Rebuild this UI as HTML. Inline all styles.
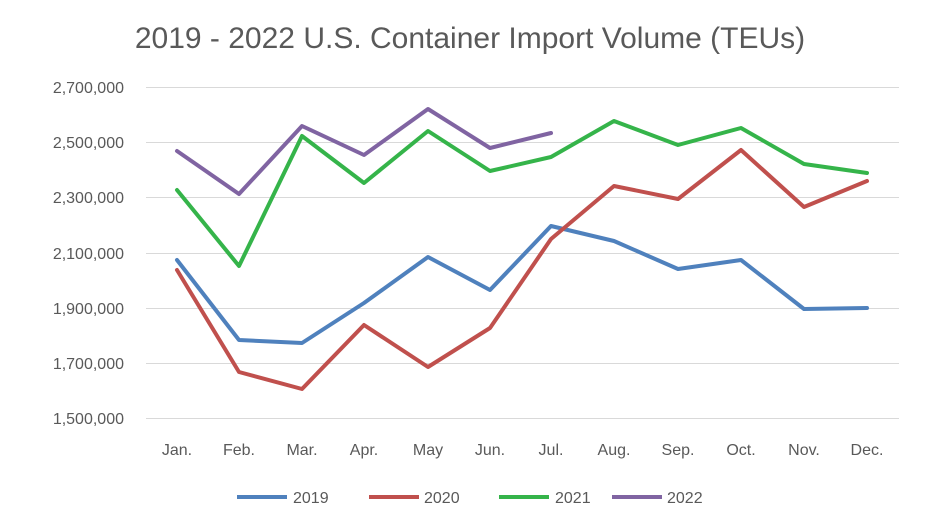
<!DOCTYPE html>
<html><head><style>body{margin:0;background:#fff}svg{display:block}text{font-family:"Liberation Sans",sans-serif;fill:#595959}</style></head>
<body>
<svg width="929" height="528" viewBox="0 0 929 528">
<text x="470" y="48" font-size="30" text-anchor="middle">2019 - 2022 U.S. Container Import Volume (TEUs)</text>
<g stroke="#d9d9d9" stroke-width="1">
<line x1="146" x2="899" y1="87.5" y2="87.5"/><line x1="146" x2="899" y1="142.5" y2="142.5"/><line x1="146" x2="899" y1="197.5" y2="197.5"/><line x1="146" x2="899" y1="253.5" y2="253.5"/><line x1="146" x2="899" y1="308.5" y2="308.5"/><line x1="146" x2="899" y1="363.5" y2="363.5"/><line x1="146" x2="899" y1="418.5" y2="418.5"/>
</g>
<g font-size="16" text-anchor="end">
<text x="124" y="93">2,700,000</text><text x="124" y="148">2,500,000</text><text x="124" y="203">2,300,000</text><text x="124" y="259">2,100,000</text><text x="124" y="314">1,900,000</text><text x="124" y="369">1,700,000</text><text x="124" y="424">1,500,000</text>
</g>
<g font-size="16" text-anchor="middle">
<text x="177" y="455">Jan.</text><text x="239" y="455">Feb.</text><text x="302" y="455">Mar.</text><text x="364" y="455">Apr.</text><text x="428" y="455">May</text><text x="490" y="455">Jun.</text><text x="551" y="455">Jul.</text><text x="614" y="455">Aug.</text><text x="678" y="455">Sep.</text><text x="741" y="455">Oct.</text><text x="804" y="455">Nov.</text><text x="867" y="455">Dec.</text>
</g>
<g fill="none" stroke-width="4" stroke-linejoin="round" stroke-linecap="round">
<polyline stroke="#4F81BD" points="177,260 239,340 302,343 364,303 428,257 490,290 551,226 614,241 678,269 741,260 804,309 867,308"/>
<polyline stroke="#C0504D" points="177,270 239,372 302,389 364,325 428,367 490,328 551,239 614,186 678,199 741,150 804,207 867,181"/>
<polyline stroke="#35B44A" points="177,190 239,266 302,136 364,183 428,131 490,171 551,157 614,121 678,145 741,128 804,164 867,173"/>
<polyline stroke="#8064A2" points="177,151 239,194 302,126 364,155 428,109 490,148 551,133"/>
</g>
<g stroke-width="4">
<line x1="237" x2="287" y1="497" y2="497" stroke="#4F81BD"/>
<line x1="369" x2="419" y1="497" y2="497" stroke="#C0504D"/>
<line x1="499" x2="549" y1="497" y2="497" stroke="#35B44A"/>
<line x1="612" x2="662" y1="497" y2="497" stroke="#8064A2"/>
</g>
<g font-size="16">
<text x="293" y="503">2019</text><text x="424" y="503">2020</text><text x="555" y="503">2021</text><text x="667" y="503">2022</text>
</g>
</svg>
</body></html>
